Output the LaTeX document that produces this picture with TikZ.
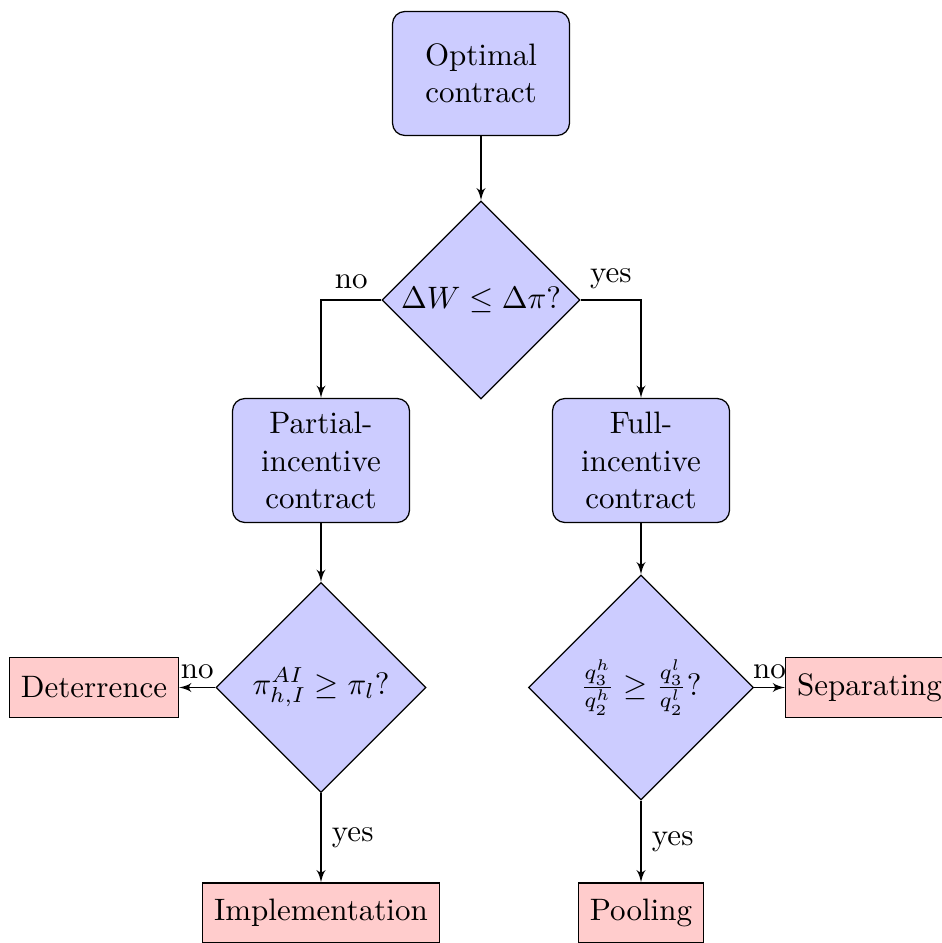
\documentclass[tikz,border=0pt]{standalone}
\usetikzlibrary{shapes.geometric,arrows}
\begin{document}
\begin{tikzpicture}[x=0.32258pt,y=-0.32258pt,
  blockbox/.style={rectangle,draw,fill=blue!20,rounded corners,align=center,minimum width=57.1pt,minimum height=40pt,inner sep=2pt},
  decisionbox/.style={diamond,draw,fill=blue!20,aspect=1,inner sep=0pt,align=center},
  outbox/.style={rectangle,draw,fill=red!20,minimum height=19.4pt,inner sep=3.7pt},
  lineconn/.style={draw,-latex'}]
\useasboundingbox (0,0) rectangle (941,943);
\node[blockbox] (opt) at (481,73.5) {Optimal\\contract};
\node[decisionbox,minimum width=63.9pt,minimum height=63.9pt] (d1) at (481,300) {$\Delta W \leq \Delta\pi$?};
\node[blockbox] (part) at (321,460.5) {Partial-\\incentive\\contract};
\node[blockbox] (full) at (641,460.5) {Full-\\incentive\\contract};
\node[decisionbox,minimum width=67.7pt,minimum height=67.7pt] (d2) at (321,687.5) {$\pi^{AI}_{h,I} \geq \pi_l$?};
\node[decisionbox,minimum width=72.6pt,minimum height=72.6pt] (d3) at (641,687.5) {$\frac{q^h_3}{q^h_2} \geq \frac{q^l_3}{q^l_2}$?};
\node[outbox] (det) at (94,687.5) {Deterrence};
\node[outbox,anchor=west] (sep) at (785,687.5) {Separating};
\node[outbox] (impl) at (321,913) {Implementation};
\node[outbox] (pool) at (641,913) {Pooling};
\path[lineconn] (opt) -- (d1);
\path[lineconn] (d1.west) -| node[pos=0.25,above] {no} (part.north);
\path[lineconn] (d1.east) -| node[pos=0.25,above] {yes} (full.north);
\path[lineconn] (part) -- (d2);
\path[lineconn] (full) -- (d3);
\path[lineconn] (d2.west) -- node[pos=0.5,above,inner sep=2.5pt] {no} (det.east);
\path[lineconn] (d2.south) -- node[right] {yes} (impl.north);
\path[lineconn] (d3.east) -- node[pos=0.5,above,inner sep=2.5pt] {no} (sep.west);
\path[lineconn] (d3.south) -- node[right] {yes} (pool.north);
\end{tikzpicture}
\end{document}
